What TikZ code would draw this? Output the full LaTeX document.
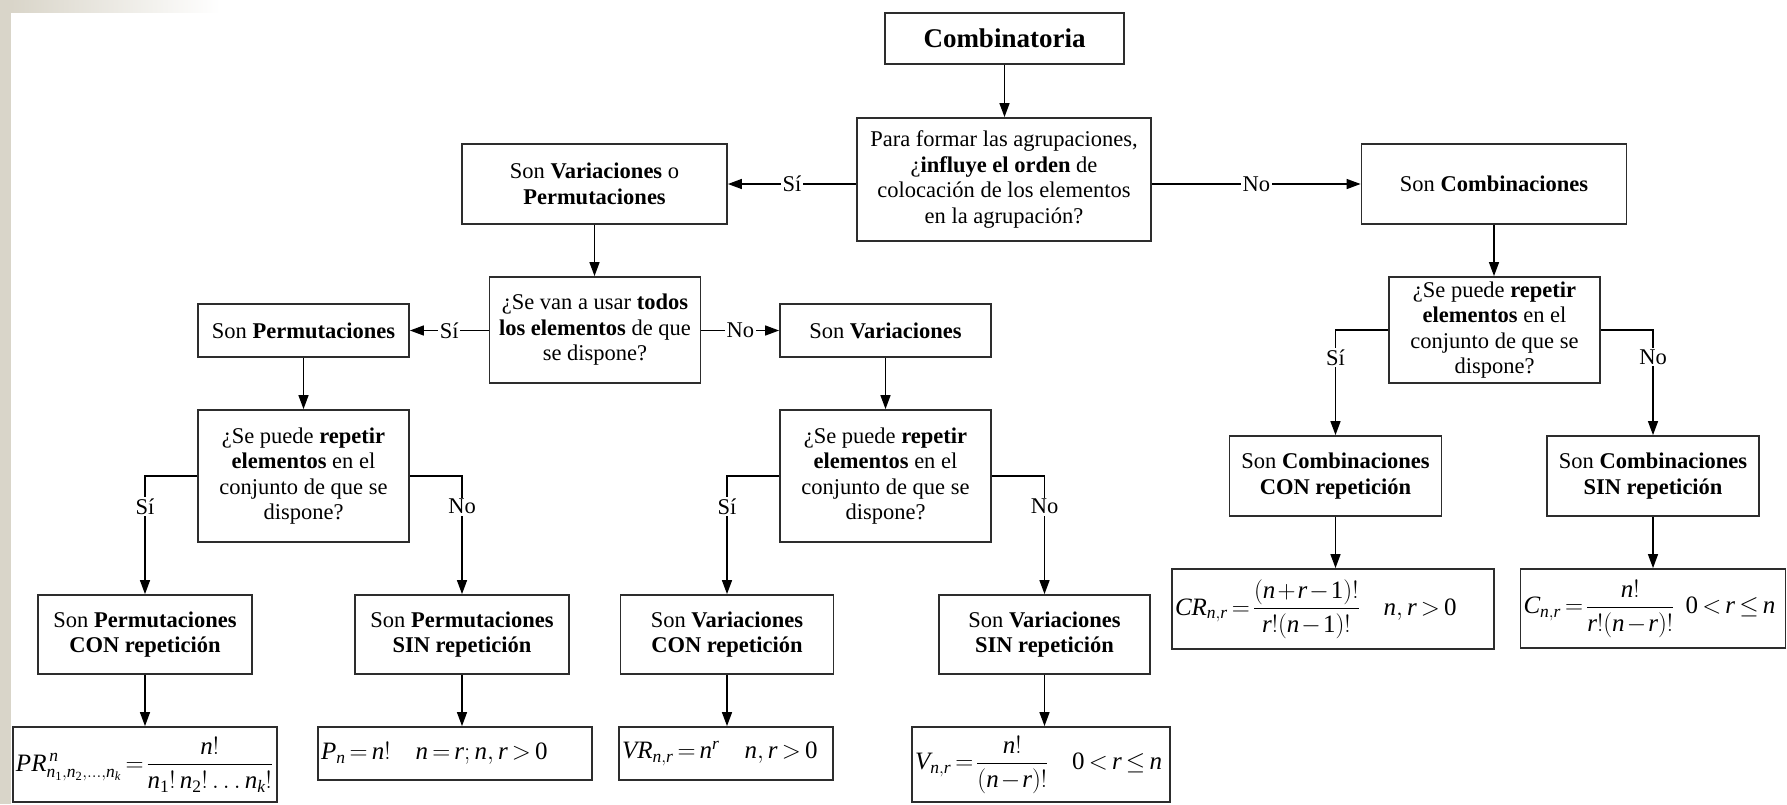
\documentclass[tikz,border=0pt]{standalone}
\usepackage{fix-cm}
\usepackage{amsmath}
\usepackage{fontspec}
\setmainfont{Liberation Serif}
\usetikzlibrary{arrows.meta,calc}
\definecolor{bgc}{RGB}{217,213,201}
\definecolor{edgec}{RGB}{45,45,45}
\newcommand\vi[1]{\mathit{#1}}
\newcommand\vd[1]{\mathrm{#1}}
\newcommand\fml[1]{\mbox{\thickmuskip=3mu\relax\medmuskip=1.5mu\relax\nulldelimiterspace=0pt\relax$#1$}}
\tikzset{
  box/.style={draw=edgec, line width=1.8pt, fill=white, inner sep=2pt, align=center,
    font=\fontsize{22.5}{25.5}\selectfont},
  fbox/.style={draw=edgec, line width=1.8pt, fill=white, inner xsep=3pt, inner ysep=0pt,
    align=flush left, font=\fontsize{25}{29}\selectfont},
  arr/.style={line width=1.4pt, -{Triangle[length=14pt,width=10pt]}},
  lbl/.style={fill=white, inner sep=1.5pt, font=\fontsize{22.5}{25.5}\selectfont},
}
\begin{document}
\begin{tikzpicture}[x=1pt,y=-1pt]
\useasboundingbox (0,0) rectangle (1787,804);
% background decoration
\fill[bgc] (0,0) rectangle (11,804);
\shade[left color=bgc, right color=white] (11,0) rectangle (220,12);

% top
\node[box, minimum width=239pt, minimum height=51pt, font=\fontsize{27}{30}\selectfont\bfseries] (comb) at (1004.5,38.5) {Combinatoria};
\node[box, minimum width=294pt, minimum height=123pt] (q1) at (1004,179.5)
  {Para formar las agrupaciones,\\ ¿\textbf{influye el orden} de\\ colocación de los elementos\\ en la agrupación?};
\node[box, minimum width=265pt, minimum height=80pt] (vp) at (594.5,184)
  {Son \textbf{Variaciones} o\\ \textbf{Permutaciones}};
\node[box, minimum width=265pt, minimum height=80pt] (sc) at (1494,184)
  {Son \textbf{Combinaciones}};

% second level
\node[box, minimum width=211pt, minimum height=106pt] (q2) at (595,330)
  {¿Se van a usar \textbf{todos}\\ \textbf{los elementos} de que\\ se dispone?};
\node[box, minimum width=211pt, minimum height=53pt] (sp) at (303.5,330.5)
  {Son \textbf{Permutaciones}};
\node[box, minimum width=211pt, minimum height=53pt] (sv) at (885.5,330.5)
  {Son \textbf{Variaciones}};
\node[box, minimum width=211pt, minimum height=106pt] (q5) at (1494.5,330)
  {¿Se puede \textbf{repetir}\\ \textbf{elementos} en el\\ conjunto de que se\\ dispone?};

% third level
\node[box, minimum width=211pt, minimum height=132pt] (q3) at (303.5,476)
  {¿Se puede \textbf{repetir}\\ \textbf{elementos} en el\\ conjunto de que se\\ dispone?};
\node[box, minimum width=211pt, minimum height=132pt] (q4) at (885.5,476)
  {¿Se puede \textbf{repetir}\\ \textbf{elementos} en el\\ conjunto de que se\\ dispone?};
\node[box, minimum width=212pt, minimum height=80pt] (ccr) at (1335.5,476)
  {Son \textbf{Combinaciones}\\ \textbf{CON repetición}};
\node[box, minimum width=212pt, minimum height=80pt] (csr) at (1653,476)
  {Son \textbf{Combinaciones}\\ \textbf{SIN repetición}};

% fourth level
\node[box, minimum width=214pt, minimum height=79pt] (pcr) at (145,634.5)
  {Son \textbf{Permutaciones}\\ \textbf{CON repetición}};
\node[box, minimum width=214pt, minimum height=79pt] (psr) at (462,634.5)
  {Son \textbf{Permutaciones}\\ \textbf{SIN repetición}};
\node[box, minimum width=213pt, minimum height=79pt] (vcr) at (727,634.5)
  {Son \textbf{Variaciones}\\ \textbf{CON repetición}};
\node[box, minimum width=211pt, minimum height=79pt] (vsr) at (1044.5,634.5)
  {Son \textbf{Variaciones}\\ \textbf{SIN repetición}};

% formulas
\node[fbox, minimum width=264pt, minimum height=75pt, text width=258pt] (fpr) at (145,764.5)
  {\fml{\vi{PR}^{\,\vi{n}}_{\vi{n}_{\vd{1}},\vi{n}_{\vd{2}},\ldots,\vi{n}_{\vi{k}}}=\dfrac{\vi{n}!}{\vi{n}_{\vd{1}}!\,\vi{n}_{\vd{2}}!\ldots\vi{n}_{\vi{k}}!}}};
\node[fbox, minimum width=274pt, minimum height=53pt, text width=268pt] (fp) at (455,753.5)
  {\fml{\vi{P}_{\vi{n}}=\vi{n}!\quad\vi{n}=\vi{r};\vi{n},\vi{r}>\vd{0}}};
\node[fbox, minimum width=214pt, minimum height=53pt, text width=208pt] (fvr) at (726,753.5)
  {\fml{\vi{VR}_{\vi{n},\vi{r}}=\vi{n}^{\vi{r}}\quad\vi{n},\vi{r}>\vd{0}}};
\node[fbox, minimum width=258pt, minimum height=75pt, text width=252pt] (fv) at (1041,764.5)
  {\fml{\vi{V}_{\vi{n},\vi{r}}=\dfrac{\vi{n}!}{(\vi{n}-\vi{r})!}\quad\vd{0}<\vi{r}\leq\vi{n}}};
\node[fbox, minimum width=322pt, minimum height=80pt, text width=316pt] (fcr) at (1333,609)
  {\fml{\vi{CR}_{\vi{n},\vi{r}}=\dfrac{(\vi{n}+\vi{r}-\vd{1})!}{\vi{r}!(\vi{n}-\vd{1})!}\quad\vi{n},\vi{r}>\vd{0}}};
\node[fbox, minimum width=265pt, minimum height=79pt, text width=259pt] (fc) at (1653,608.5)
  {\fml{\vi{C}_{\vi{n},\vi{r}}=\dfrac{\vi{n}!}{\vi{r}!(\vi{n}-\vi{r})!}\enskip\vd{0}<\vi{r}\leq\vi{n}}};

% connectors
\draw[arr] (comb.south) -- (comb.south |- q1.north);
\draw[arr] (q1.west |- vp.east) -- node[lbl]{Sí} (vp.east);
\draw[arr] (q1.east |- sc.west) -- node[lbl]{No} (sc.west);
\draw[arr] (vp.south) -- (vp.south |- q2.north);
\draw[arr] (sc.south) -- (sc.south |- q5.north);
\draw[arr] (q2.west |- sp.east) -- node[lbl]{Sí} (sp.east);
\draw[arr] (q2.east |- sv.west) -- node[lbl]{No} (sv.west);
\draw[arr] (sp.south) -- (sp.south |- q3.north);
\draw[arr] (sv.south) -- (sv.south |- q4.north);
\draw[arr] (q3.west) -| node[lbl, pos=0.63]{Sí} (pcr.north);
\draw[arr] (q3.east) -| node[lbl, pos=0.63]{No} (psr.north);
\draw[arr] (q4.west) -| node[lbl, pos=0.63]{Sí} (vcr.north);
\draw[arr] (q4.east) -| node[lbl, pos=0.63]{No} (vsr.north);
\draw[arr] (q5.west) -| node[lbl, pos=0.63]{Sí} (ccr.north);
\draw[arr] (q5.east) -| node[lbl, pos=0.63]{No} (csr.north);
\draw[arr] (pcr.south) -- (pcr.south |- fpr.north);
\draw[arr] (psr.south) -- (psr.south |- fp.north);
\draw[arr] (vcr.south) -- (vcr.south |- fvr.north);
\draw[arr] (vsr.south) -- (vsr.south |- fv.north);
\draw[arr] (ccr.south) -- (ccr.south |- fcr.north);
\draw[arr] (csr.south) -- (csr.south |- fc.north);
\end{tikzpicture}
\end{document}
